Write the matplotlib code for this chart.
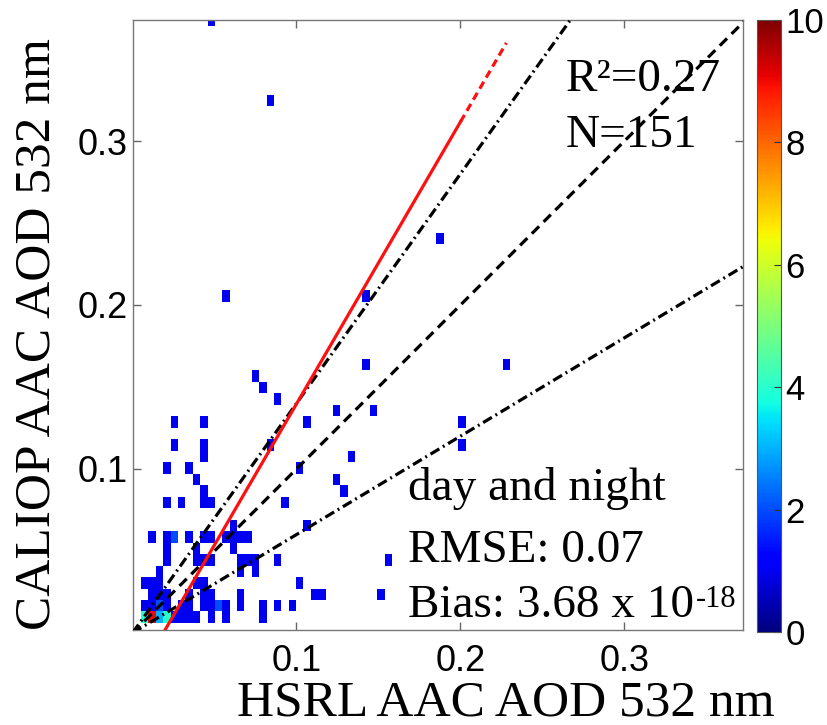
import numpy as np
import matplotlib
matplotlib.use("Agg")
import matplotlib.pyplot as plt

# ---- data: occupied cells of the 2-D histogram (cell centres) and counts ----
hsrl_x = [0.048, 0.084, 0.057, 0.1425, 0.1875, 0.228, 0.1425, 0.075, 0.0795, 0.0885,
          0.1245, 0.147, 0.1065, 0.201, 0.201, 0.1335, 0.102, 0.1245, 0.129, 0.093,
          0.1065, 0.0885, 0.156, 0.102, 0.111, 0.1155, 0.1515, 0.0885, 0.0975,
          0.0255, 0.0435, 0.0255, 0.0435, 0.0435, 0.021, 0.0345, 0.039, 0.0435,
          0.021, 0.030, 0.0435, 0.048, 0.084,
          0.012, 0.021, 0.0255, 0.0345, 0.0435, 0.048, 0.057, 0.0615, 0.066, 0.0705,
          0.0615, 0.021, 0.039, 0.0615,
          0.021, 0.039, 0.0435, 0.048, 0.066, 0.0705, 0.075,
          0.066, 0.075, 0.0165,
          0.0075, 0.012, 0.0165, 0.039, 0.0435,
          0.012, 0.0165, 0.021, 0.0345, 0.0435, 0.048, 0.066,
          0.0075, 0.012, 0.0165, 0.021, 0.030, 0.0345, 0.0435, 0.048, 0.0525, 0.057, 0.066, 0.0795,
          0.0075, 0.012, 0.0165, 0.021, 0.0255, 0.030, 0.0345, 0.039, 0.048, 0.057, 0.0795]
caliop_y = [0.3736, 0.3246, 0.2056, 0.2056, 0.2406, 0.1636, 0.1636, 0.1566, 0.1496, 0.1426,
            0.1356, 0.1356, 0.1286, 0.1286, 0.1146, 0.1076, 0.1006, 0.0936, 0.0866, 0.0796,
            0.0656, 0.0446, 0.0446, 0.0306, 0.0236, 0.0236, 0.0236, 0.0166, 0.0166,
            0.1286, 0.1286, 0.1146, 0.1146, 0.1076, 0.1006, 0.1006, 0.0936, 0.0866,
            0.0796, 0.0796, 0.0796, 0.0796, 0.1146,
            0.0586, 0.0586, 0.0586, 0.0586, 0.0586, 0.0586, 0.0586, 0.0586, 0.0586, 0.0586,
            0.0656, 0.0516, 0.0516, 0.0516,
            0.0446, 0.0446, 0.0446, 0.0446, 0.0446, 0.0446, 0.0446,
            0.0376, 0.0376, 0.0376,
            0.0306, 0.0306, 0.0306, 0.0306, 0.0306,
            0.0236, 0.0236, 0.0236, 0.0236, 0.0236, 0.0236, 0.0236,
            0.0166, 0.0166, 0.0166, 0.0166, 0.0166, 0.0166, 0.0166, 0.0166, 0.0166, 0.0166, 0.0166, 0.0166,
            0.0096, 0.0096, 0.0096, 0.0096, 0.0096, 0.0096, 0.0096, 0.0096, 0.0096, 0.0096, 0.0096]
cell_counts = [1, 1, 1, 1, 1, 1, 1, 1, 1, 1,
               1, 1, 1, 1, 1, 1, 1, 1, 1, 1,
               1, 1, 1, 1, 1, 1, 1, 1, 1,
               1, 1, 1, 1, 1, 1, 1, 1, 1,
               1, 1, 1, 1, 1,
               1, 1, 2, 1, 1, 1, 1, 1, 1, 1,
               1, 1, 1, 1,
               1, 1, 1, 1, 1, 1, 1,
               1, 1, 1,
               1, 1, 1, 1, 1,
               1, 1, 1, 1, 1, 1, 1,
               1, 1, 2, 1, 1, 1, 1, 1, 2, 1, 1, 1,
               4, 9, 3, 4, 1, 1, 1, 1, 1, 1, 1]

fit_slope = 1.72
fit_intercept = -0.0323
fit_x_end_solid = 0.200
fit_x_end = 0.228
envelope_slopes = [1.4, 0.6]

r2_text = "R\u00b2=0.27"
n_text = "N=151"
info_lines = ["day and night", "RMSE: 0.07", "Bias: 3.68 x 10"]
bias_exponent = "-18"
xlabel = "HSRL AAC AOD 532 nm"
ylabel = "CALIOP AAC AOD 532 nm"
ticks = [0.1, 0.2, 0.3]
tick_labels = ["0.1", "0.2", "0.3"]
cbar_ticks = [0, 2, 4, 6, 8, 10]

# ---- figure ----
W, H = 827, 725
fig = plt.figure(figsize=(W / 100, H / 100), dpi=100)
ax = fig.add_axes([133 / W, 1 - 630 / H, 610 / W, 610 / H])
cax = fig.add_axes([757 / W, 1 - 632 / H, 24 / W, 612 / H])

xlim = (0.0003, 0.3723)
ylim = (0.0018, 0.3738)

xedges = np.arange(0.00075, 0.38, 0.0045)
yedges = np.arange(0.0061, 0.385, 0.007)

h = ax.hist2d(hsrl_x, caliop_y, bins=[xedges, yedges], weights=cell_counts,
              cmap='jet', vmin=0, vmax=10, cmin=0.5, zorder=1)

# 1:1 line and envelope lines
xx = np.array([0.0, 0.38])
ax.plot(xx, xx, color='black', lw=2.3, linestyle=(0, (3.2, 2.0)), zorder=3)
for s in envelope_slopes:
    ax.plot(xx, s * xx, color='black', lw=2.3,
            linestyle=(0, (3.2, 1.3, 0.6, 1.3)), zorder=3)

# regression fit
xs = np.array([0.0, fit_x_end_solid])
ax.plot(xs, fit_slope * xs + fit_intercept, color='#ff1010', lw=2.3, zorder=4)
xd = np.array([fit_x_end_solid, fit_x_end])
ax.plot(xd, fit_slope * xd + fit_intercept, color='#ff1010', lw=2.3,
        linestyle=(0, (2.5, 1.5)), zorder=4)

ax.set_xlim(*xlim)
ax.set_ylim(*ylim)
ax.set_xticks(ticks)
ax.set_xticklabels(tick_labels)
ax.set_yticks(ticks)
ax.set_yticklabels(tick_labels)

sans = 'Liberation Sans'
serif = 'Liberation Serif'
ax.tick_params(axis='both', which='both', direction='in', length=6, width=1,
               color='#666666', top=True, right=True, labelsize=26)
ax.tick_params(axis='x', pad=10)
ax.tick_params(axis='y', pad=4)
for lab in ax.get_xticklabels() + ax.get_yticklabels():
    lab.set_fontfamily(sans)
for sp in ax.spines.values():
    sp.set_color('#777777')
    sp.set_linewidth(1.0)

ax.set_xlabel(xlabel, fontfamily=serif, fontsize=37)
ax.xaxis.set_label_coords((506 - 133) / 610, -(703 - 630) / 610)
ax.xaxis.label.set_va('center')
ax.set_ylabel(ylabel, fontfamily=serif, fontsize=37)
ax.yaxis.set_label_coords(-(133 - 37) / 610, (630 - 334) / 610)
ax.yaxis.label.set_va('center')

ax.text(0.2643, 0.3305, r2_text, fontfamily=serif, fontsize=34, va='baseline', zorder=5)
ax.text(0.2643, 0.2963, n_text, fontfamily=serif, fontsize=34, va='baseline', zorder=5)
info_y = [0.0811, 0.0433, 0.0100]
txts = []
for t, yv in zip(info_lines, info_y):
    txts.append(ax.text(0.168, yv, t, fontfamily=serif, fontsize=34,
                        va='baseline', zorder=5))
ax.annotate(bias_exponent, xy=(1, 0), xycoords=txts[-1], xytext=(1.5, 14),
            textcoords='offset points', fontfamily=serif, fontsize=22,
            va='baseline', ha='left', zorder=5)

cb = fig.colorbar(h[3], cax=cax, ticks=cbar_ticks)
cb.outline.set_edgecolor('#555555')
cb.outline.set_linewidth(0.8)
cax.tick_params(direction='in', length=5, width=0.8, color='#333333', labelsize=25, pad=3)
for lab in cax.get_yticklabels():
    lab.set_fontfamily(sans)

fig.savefig("out.png", dpi=100)
